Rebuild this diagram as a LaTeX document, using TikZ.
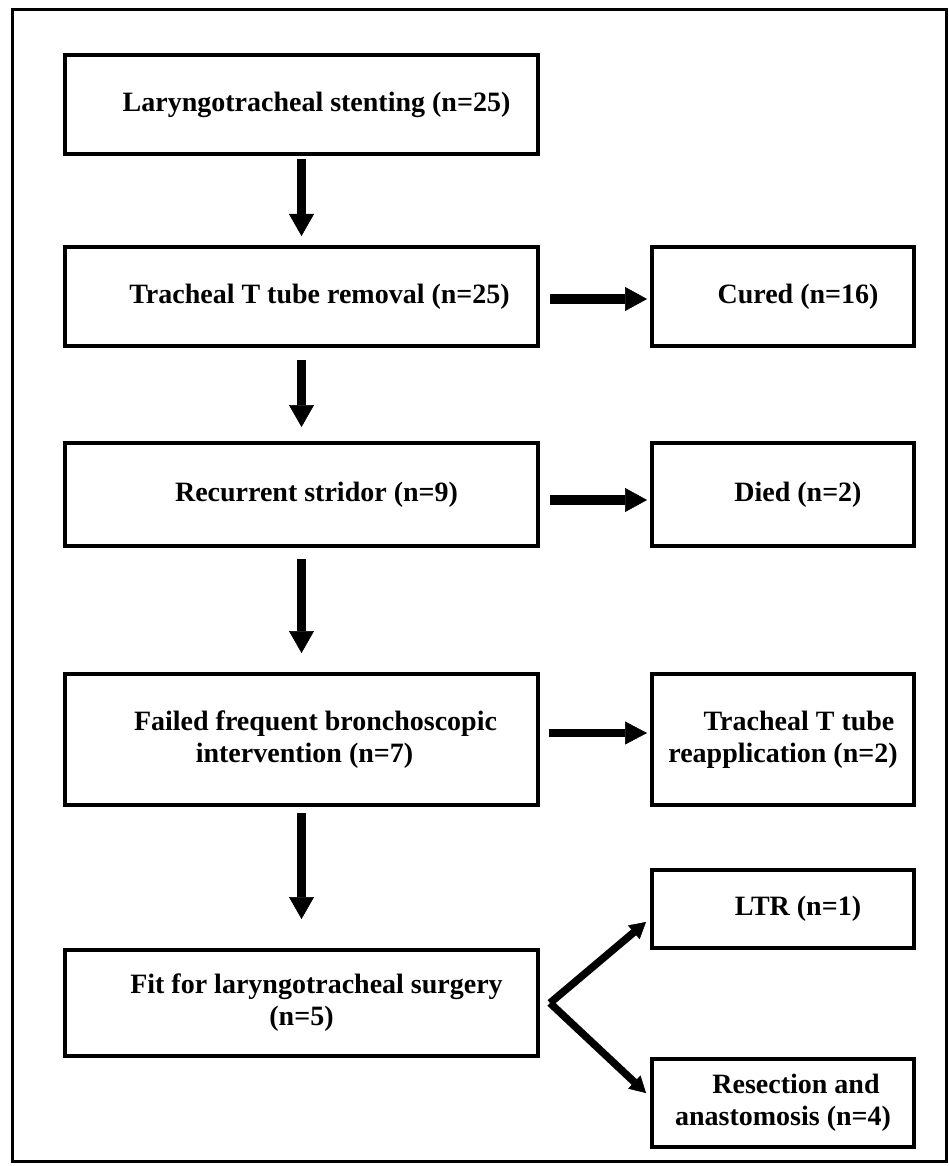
\documentclass[tikz,border=0pt]{standalone}
\usepackage{fontspec}
\setmainfont{Liberation Serif}
\usetikzlibrary{arrows.meta}
\begin{document}
\begin{tikzpicture}[x=1pt,y=-1pt,
  box/.style={draw=black, line width=4pt, fill=white, inner sep=0pt, align=center,
    font=\bfseries\fontsize{28pt}{32pt}\selectfont, text=black},
  mainbox/.style={box, minimum width=473pt},
  sidebox/.style={box, minimum width=262pt},
  varr/.style={draw=black, line width=9pt, -{Triangle[length=22pt,width=25pt,line width=0.5pt]}},
  harr/.style={draw=black, line width=10pt, -{Triangle[length=22pt,width=24pt,line width=0.5pt]}},
  tarr/.style={draw=black, line width=8pt, -{Triangle[length=22pt,width=23pt,line width=0.5pt]}},
  darr/.style={draw=black, line width=7.5pt, line join=round, -{Triangle[length=16pt,width=18pt,line width=0.5pt]}},
  frame/.style={draw=black, line width=3pt}
]
\useasboundingbox (0,0) rectangle (949,1166);
\fill[white] (0,0) rectangle (949,1166);
\draw[frame] (12,9.5) rectangle (946.5,1161);

\node[mainbox, minimum height=99pt]  (b1) at (301.5,104.5) {\hspace*{30pt}Laryngotracheal stenting (n=25)};
\node[mainbox, minimum height=99pt]  (b2) at (301.5,296.5) {\hspace*{36pt}Tracheal T tube removal (n=25)};
\node[mainbox, minimum height=103pt] (b3) at (301.5,494.5) {\hspace*{30pt}Recurrent stridor (n=9)};
\node[mainbox, minimum height=131pt] (b4) at (301.5,739.5) {\hspace*{28pt}Failed frequent bronchoscopic\\\hspace*{6pt}intervention (n=7)};
\node[mainbox, minimum height=106pt] (b5) at (301.5,1003) {\hspace*{30pt}Fit for laryngotracheal surgery\\(n=5)};

\node[sidebox, minimum height=99pt]  (cured) at (783,296.5) {\hspace*{30pt}Cured (n=16)};
\node[sidebox, minimum height=103pt] (died)  at (783,494.5) {\hspace*{30pt}Died (n=2)};
\node[sidebox, minimum height=131pt] (reapp) at (783,739.5) {\hspace*{32pt}Tracheal T tube\\reapplication (n=2)};
\node[sidebox, minimum height=78pt]  (ltr)   at (783,909) {\hspace*{30pt}LTR (n=1)};
\node[sidebox, minimum height=88pt]  (res)   at (783,1103) {\hspace*{26pt}Resection and\\anastomosis (n=4)};

\draw[varr, shorten <=3pt, shorten >=9pt]  (b1.south) -- (b2.north);
\draw[varr, shorten <=12pt, shorten >=14pt] (b2.south) -- (b3.north);
\draw[varr, shorten <=11pt, shorten >=19pt] (b3.south) -- (b4.north);
\draw[varr, shorten <=6pt, shorten >=29pt]  (b4.south) -- (b5.north);

\draw[harr, shorten <=10pt, shorten >=3pt] ([yshift=-2.5pt]b2.east) -- ([yshift=-2.5pt]cured.west);
\draw[harr, shorten <=10pt, shorten >=3pt] ([yshift=-5.5pt]b3.east) -- ([yshift=-5.5pt]died.west);
\draw[tarr, shorten <=9pt, shorten >=3pt]  ([yshift=6.5pt]b4.east) -- ([yshift=6.5pt]reapp.west);

\coordinate (v) at ([xshift=10pt]b5.east);
\draw[darr] (v) -- ([xshift=-4pt,yshift=-13pt]ltr.west);
\draw[darr] (v) -- ([xshift=-4pt,yshift=10pt]res.west);
\end{tikzpicture}
\end{document}
